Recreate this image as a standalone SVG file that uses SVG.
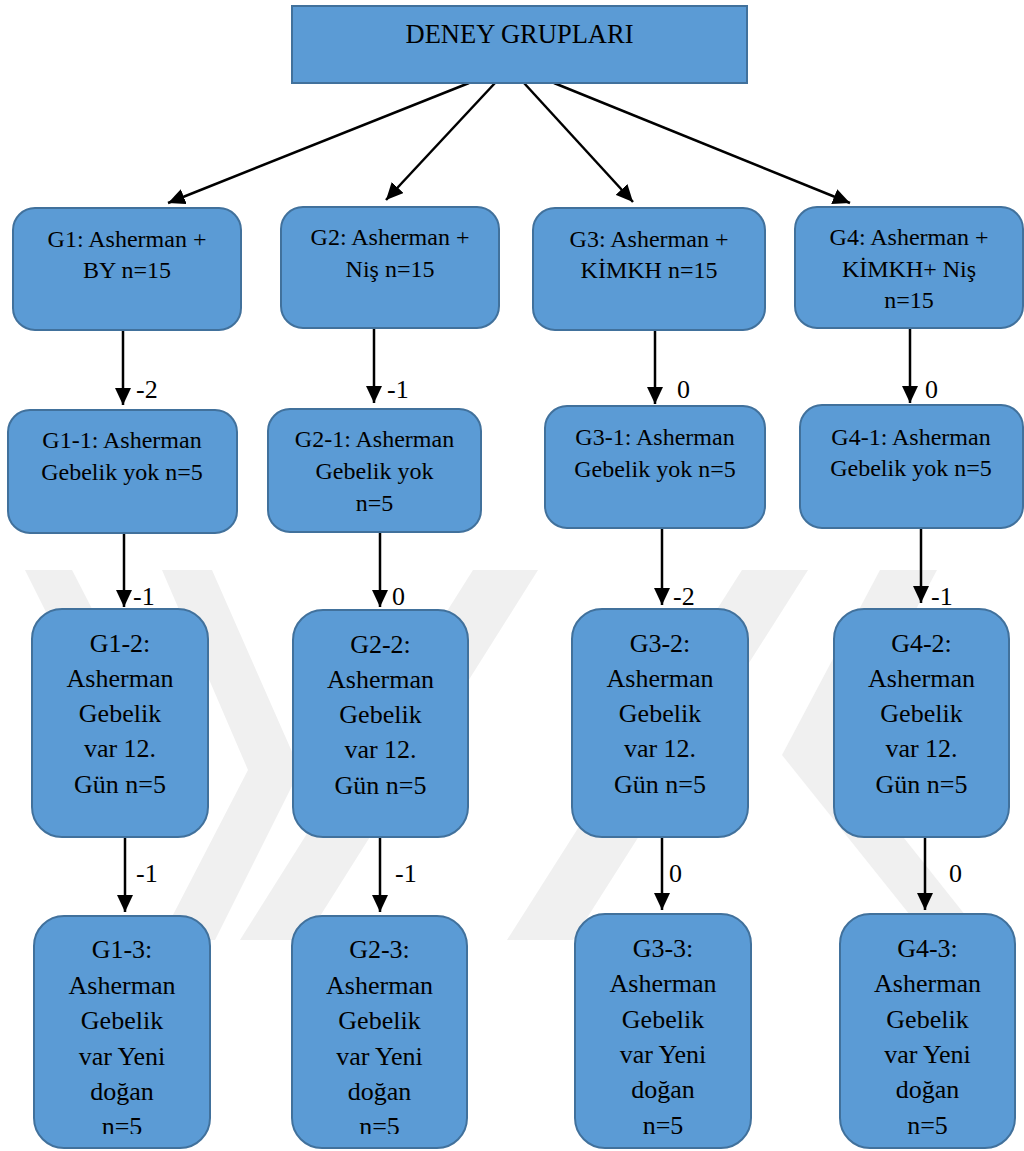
<svg xmlns="http://www.w3.org/2000/svg" width="1024" height="1151" viewBox="0 0 1024 1151">
<style>
.box{fill:#5B9BD5;stroke:#41719C;stroke-width:2}
.t{font-family:"Liberation Serif","Times New Roman",serif;fill:#000;text-anchor:middle}
.s{font-size:24px}
.b{font-size:26px}
.lbl{font-family:"Liberation Serif","Times New Roman",serif;font-size:26px;fill:#000}
.edge{stroke:#000;stroke-width:2.5;fill:none;marker-end:url(#ah)}
.wm{fill:#f0f0f0}
</style>
<defs>
<marker id="ah" markerUnits="userSpaceOnUse" markerWidth="18" markerHeight="16" refX="17" refY="8" orient="auto">
<path d="M0,0 L17,8 L0,16 z" fill="#000"/>
</marker>
<clipPath id="bottomclip"><rect x="0" y="0" width="1024" height="1134"/></clipPath>
</defs>
<rect x="0" y="0" width="1024" height="1151" fill="#fff"/>
<g id="watermark">
<polygon class="wm" points="25,570 72,570 170,760 120,760"/>
<polygon class="wm" points="162,570 212,570 300,770 215,940 160,940 248,770"/>
<polygon class="wm" points="473,570 538,570 305,940 240,940"/>
<polygon class="wm" points="742,570 808,570 573,940 507,940"/>
<polygon class="wm" points="880,570 937,570 838,755 985,940 930,940 782,755"/>
</g>
<g id="connectors">
<line class="edge" x1="469" y1="83" x2="168" y2="203"/>
<line class="edge" x1="495" y1="83" x2="386" y2="200"/>
<line class="edge" x1="524" y1="83" x2="633" y2="202"/>
<line class="edge" x1="554" y1="83" x2="850" y2="203"/>
<line class="edge" x1="123" y1="331" x2="123" y2="405"/>
<line class="edge" x1="374" y1="328" x2="374" y2="403"/>
<line class="edge" x1="655" y1="330" x2="655" y2="404"/>
<line class="edge" x1="910" y1="328" x2="910" y2="403"/>
<line class="edge" x1="124" y1="533" x2="124" y2="607"/>
<line class="edge" x1="380" y1="532" x2="380" y2="607"/>
<line class="edge" x1="662" y1="528" x2="662" y2="605"/>
<line class="edge" x1="921" y1="528" x2="921" y2="603"/>
<line class="edge" x1="125" y1="837" x2="125" y2="912"/>
<line class="edge" x1="380" y1="837" x2="380" y2="912"/>
<line class="edge" x1="662" y1="834" x2="662" y2="910"/>
<line class="edge" x1="925" y1="837" x2="925" y2="910"/>
<text class="lbl" x="136" y="398">-2</text>
<text class="lbl" x="387" y="398">-1</text>
<text class="lbl" x="677" y="398">0</text>
<text class="lbl" x="925" y="398">0</text>
<text class="lbl" x="133" y="605">-1</text>
<text class="lbl" x="392" y="605">0</text>
<text class="lbl" x="673" y="605">-2</text>
<text class="lbl" x="931" y="605">-1</text>
<text class="lbl" x="136" y="882">-1</text>
<text class="lbl" x="395" y="882">-1</text>
<text class="lbl" x="669" y="882">0</text>
<text class="lbl" x="949" y="882">0</text>
</g>
<g id="n-top">
<rect class="box" x="292" y="6" width="455" height="77"/>
<text class="t" x="519.5" y="43" font-size="26.5">DENEY GRUPLARI</text>
</g>
<g id="n-g1">
<rect class="box" x="13" y="208" width="228" height="122" rx="22"/>
<text class="t s" x="127" y="247">G1: Asherman +</text>
<text class="t s" x="127" y="278">BY n=15</text>
</g>
<g id="n-g2">
<rect class="box" x="281" y="207" width="218" height="121" rx="22"/>
<text class="t s" x="390" y="245">G2: Asherman +</text>
<text class="t s" x="390" y="277">Niş n=15</text>
</g>
<g id="n-g3">
<rect class="box" x="533" y="208" width="232" height="122" rx="22"/>
<text class="t s" x="649" y="247">G3: Asherman +</text>
<text class="t s" x="649" y="278">KİMKH n=15</text>
</g>
<g id="n-g4">
<rect class="box" x="795" y="207" width="228" height="121" rx="22"/>
<text class="t s" x="909" y="245">G4: Asherman +</text>
<text class="t s" x="909" y="277">KİMKH+ Niş</text>
<text class="t s" x="909" y="308">n=15</text>
</g>
<g id="n-g1-1">
<rect class="box" x="8" y="410" width="229" height="123" rx="22"/>
<text class="t s" x="122" y="448">G1-1: Asherman</text>
<text class="t s" x="122" y="480">Gebelik yok n=5</text>
</g>
<g id="n-g2-1">
<rect class="box" x="268" y="409" width="213" height="123" rx="22"/>
<text class="t s" x="374.5" y="447">G2-1: Asherman</text>
<text class="t s" x="374.5" y="479">Gebelik yok</text>
<text class="t s" x="374.5" y="511">n=5</text>
</g>
<g id="n-g3-1">
<rect class="box" x="545" y="406" width="220" height="122" rx="22"/>
<text class="t s" x="655" y="445">G3-1: Asherman</text>
<text class="t s" x="655" y="477">Gebelik yok n=5</text>
</g>
<g id="n-g4-1">
<rect class="box" x="800" y="405" width="223" height="123" rx="22"/>
<text class="t s" x="911" y="445">G4-1: Asherman</text>
<text class="t s" x="911" y="476">Gebelik yok n=5</text>
</g>
<g id="n-g1-2">
<rect class="box" x="32" y="609" width="176" height="228" rx="30"/>
<text class="t b" x="120" y="652">G1-2:</text>
<text class="t b" x="120" y="687">Asherman</text>
<text class="t b" x="120" y="722">Gebelik</text>
<text class="t b" x="120" y="757">var 12.</text>
<text class="t b" x="120" y="793">Gün n=5</text>
</g>
<g id="n-g2-2">
<rect class="box" x="293" y="610" width="175" height="227" rx="30"/>
<text class="t b" x="380.5" y="653">G2-2:</text>
<text class="t b" x="380.5" y="688">Asherman</text>
<text class="t b" x="380.5" y="723">Gebelik</text>
<text class="t b" x="380.5" y="758">var 12.</text>
<text class="t b" x="380.5" y="794">Gün n=5</text>
</g>
<g id="n-g3-2">
<rect class="box" x="572" y="609" width="176" height="228" rx="30"/>
<text class="t b" x="660" y="652">G3-2:</text>
<text class="t b" x="660" y="687">Asherman</text>
<text class="t b" x="660" y="722">Gebelik</text>
<text class="t b" x="660" y="757">var 12.</text>
<text class="t b" x="660" y="793">Gün n=5</text>
</g>
<g id="n-g4-2">
<rect class="box" x="834" y="609" width="175" height="228" rx="30"/>
<text class="t b" x="921.5" y="652">G4-2:</text>
<text class="t b" x="921.5" y="687">Asherman</text>
<text class="t b" x="921.5" y="722">Gebelik</text>
<text class="t b" x="921.5" y="757">var 12.</text>
<text class="t b" x="921.5" y="793">Gün n=5</text>
</g>
<g id="n-g1-3">
<rect class="box" x="34" y="916" width="176" height="232" rx="30"/>
<g clip-path="url(#bottomclip)">
<text class="t b" x="122" y="958">G1-3:</text>
<text class="t b" x="122" y="994">Asherman</text>
<text class="t b" x="122" y="1029">Gebelik</text>
<text class="t b" x="122" y="1065">var Yeni</text>
<text class="t b" x="122" y="1100">doğan</text>
<text class="t b" x="122" y="1135">n=5</text>
</g>
</g>
<g id="n-g2-3">
<rect class="box" x="292" y="916" width="175" height="232" rx="30"/>
<g clip-path="url(#bottomclip)">
<text class="t b" x="379.5" y="958">G2-3:</text>
<text class="t b" x="379.5" y="994">Asherman</text>
<text class="t b" x="379.5" y="1029">Gebelik</text>
<text class="t b" x="379.5" y="1065">var Yeni</text>
<text class="t b" x="379.5" y="1100">doğan</text>
<text class="t b" x="379.5" y="1135">n=5</text>
</g>
</g>
<g id="n-g3-3">
<rect class="box" x="575" y="914" width="176" height="234" rx="30"/>
<g clip-path="url(#bottomclip)">
<text class="t b" x="663" y="957">G3-3:</text>
<text class="t b" x="663" y="992">Asherman</text>
<text class="t b" x="663" y="1028">Gebelik</text>
<text class="t b" x="663" y="1063">var Yeni</text>
<text class="t b" x="663" y="1098">doğan</text>
<text class="t b" x="663" y="1134">n=5</text>
</g>
</g>
<g id="n-g4-3">
<rect class="box" x="840" y="914" width="175" height="234" rx="30"/>
<g clip-path="url(#bottomclip)">
<text class="t b" x="927.5" y="957">G4-3:</text>
<text class="t b" x="927.5" y="992">Asherman</text>
<text class="t b" x="927.5" y="1028">Gebelik</text>
<text class="t b" x="927.5" y="1063">var Yeni</text>
<text class="t b" x="927.5" y="1098">doğan</text>
<text class="t b" x="927.5" y="1134">n=5</text>
</g>
</g>
</svg>
